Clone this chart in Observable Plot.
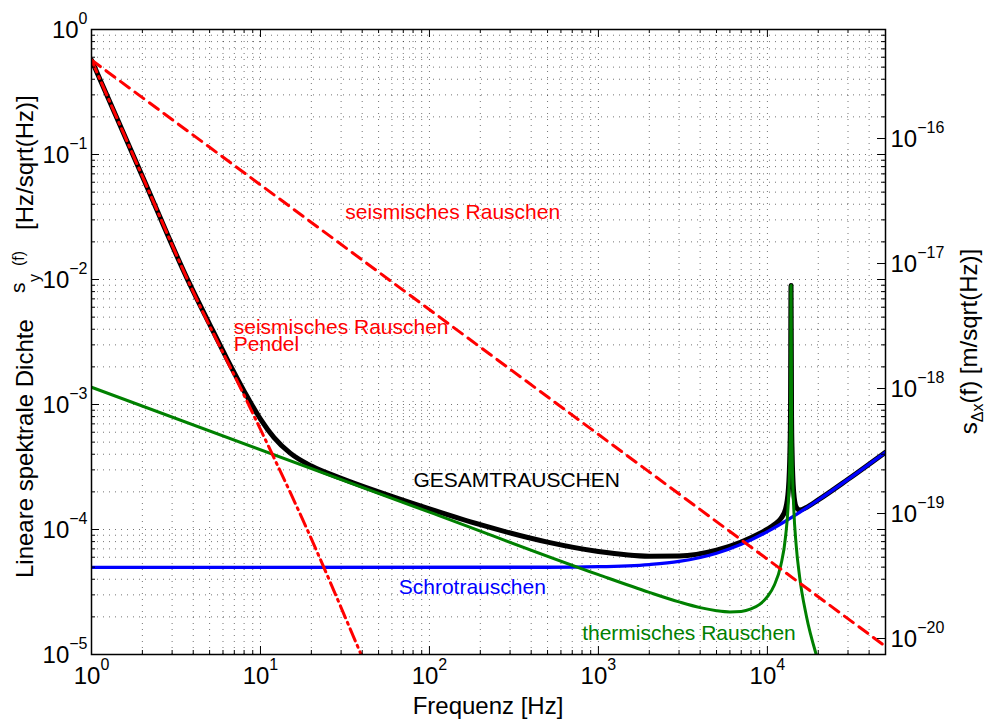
<!DOCTYPE html>
<html>
<head>
<meta charset="utf-8">
<script src="https://cdn.jsdelivr.net/npm/d3@7"></script>
<script src="https://cdn.jsdelivr.net/npm/@observablehq/plot@0.6"></script>
<style>
  html, body { margin: 0; padding: 0; background: #fff; }
  #chart { width: 985px; height: 724px; }
</style>
</head>
<body>
<div id="chart"></div>
<script>
// Rauschbeiträge (lineare spektrale Dichte in Hz/sqrt(Hz)) über der Frequenz in Hz

// seismisches Rauschen (Boden)
const seismicFreq  = [1, 50000];
const seismicNoise = [0.57, 1.16e-5];

// seismisches Rauschen hinter der Pendelaufhängung
const pendulumFreq  = [1, 2, 3.7, 8.5, 18.9, 39.4, 50];
const pendulumNoise = [0.57, 0.067, 0.01, 0.001, 1e-4, 1e-5, 4.7e-6];

// thermisches Rauschen mit mechanischer Resonanz bei ~13.8 kHz
const thermalFreq  = [1, 100, 1000, 2000, 3000, 4000, 5000, 6000, 7000, 8000, 9000, 10000,
                      11000, 12000, 12800, 13300, 13600, 13700, 13800, 13900, 14000, 14300,
                      14800, 15500, 17000, 19500, 21000];
const thermalNoise = [1.375e-3, 1.375e-4, 4.35e-5, 3.14e-5, 2.635e-5, 2.37e-5, 2.24e-5, 2.19e-5,
                      2.21e-5, 2.315e-5, 2.52e-5, 2.90e-5, 3.60e-5, 5.15e-5, 8.71e-5, 1.68e-4,
                      4.13e-4, 8.26e-4, 8.95e-3, 7.9e-4, 3.95e-4, 1.55e-4, 7.51e-5, 4.22e-5,
                      2.04e-5, 9.88e-6, 7.2e-6];

// Schrotrauschen
const shotFreq  = [1, 500, 1000, 2000, 3000, 5000, 7000, 10000, 14000, 20000, 30000, 50000];
const shotNoise = [4.97e-5, 4.99e-5, 5.04e-5, 5.24e-5, 5.55e-5, 6.46e-5, 7.62e-5, 9.62e-5,
                   1.256e-4, 1.722e-4, 2.52e-4, 4.15e-4];

// Gesamtrauschen
const totalFreq  = [1, 2, 3.7, 5, 6.3, 8.5, 10, 12, 15, 20, 30, 50, 100, 200, 500, 1000, 2000,
                    3000, 5000, 7000, 9000, 10000, 11000, 12000, 12800, 13300, 13600, 13700,
                    13800, 13900, 14000, 14300, 14800, 15500, 17000, 20000, 30000, 50000];
const totalNoise = [0.57, 0.067, 0.01003, 4.385e-3, 2.354e-3, 1.107e-3, 7.65e-4, 5.46e-4,
                    4.08e-4, 3.22e-4, 2.57e-4, 2.0e-4, 1.462e-4, 1.092e-4, 7.92e-5, 6.66e-5,
                    6.11e-5, 6.14e-5, 6.84e-5, 7.94e-5, 9.28e-5, 1.005e-4, 1.095e-4, 1.221e-4,
                    1.456e-4, 2.07e-4, 4.31e-4, 8.35e-4, 8.95e-3, 7.99e-4, 4.14e-4, 2.01e-4,
                    1.516e-4, 1.434e-4, 1.501e-4, 1.724e-4, 2.52e-4, 4.15e-4];

// Achsen
const xDomain = [1, 50000];
const yDomain = [1e-5, 1];
const xTickExponents = [0, 1, 2, 3, 4];
const yTickExponents = [-5, -4, -3, -2, -1, 0];
const rightTickExponents = [-20, -19, -18, -17, -16];
// Umrechnung Frequenzrauschen -> Längenrauschen (m pro Hz)
const hzToMeter = 7.45e-16;

const FONT = "'Liberation Sans', Arial, Helvetica, sans-serif";
const W = 985, H = 724;
const M = {top: 29, right: 100, bottom: 70, left: 91};
const FW = W - M.left - M.right;
const FH = H - M.top - M.bottom;

const pairs = (fs, vs) => fs.map((f, i) => ({f, v: vs[i]}));
const isDecade = v => Math.abs(Math.log10(v) - Math.round(Math.log10(v))) < 1e-6;

const xAll = d3.scaleLog().domain(xDomain).ticks();
const yAll = d3.scaleLog().domain(yDomain).ticks();
const xMajor = xTickExponents.map(e => 10 ** e);
const yMajor = yTickExponents.map(e => 10 ** e);
const xMinor = xAll.filter(v => !isDecade(v));
const yMinor = yAll.filter(v => !isDecade(v));
const rightTicks = rightTickExponents.map(e => ({y: 10 ** e / hzToMeter, e}));

const gridStyle = {stroke: "#000", strokeOpacity: 0.55, strokeWidth: 1, strokeDasharray: "1,5"};
const tickStyle = {stroke: "#000", strokeWidth: 1};
const MAJ = 8, MIN = 4;

const lineBase = {x: "f", y: "v", curve: "monotone-x", clip: true, strokeLinejoin: "round"};

const chart = Plot.plot({
  width: W,
  height: H,
  marginTop: M.top,
  marginRight: M.right,
  marginBottom: M.bottom,
  marginLeft: M.left,
  style: {fontFamily: FONT, background: "#fff", color: "#000"},
  x: {type: "log", domain: xDomain, axis: null},
  y: {type: "log", domain: yDomain, axis: null},
  marks: [
    // punktiertes Gitter an Haupt- und Nebenteilstrichen
    Plot.ruleX(xAll.filter(v => v > xDomain[0] && v < xDomain[1]), {x: d => d, ...gridStyle}),
    Plot.ruleY(yAll.filter(v => v > yDomain[0] && v < yDomain[1]), {y: d => d, ...gridStyle}),

    // Kurven
    Plot.line(pairs(totalFreq, totalNoise), {...lineBase, stroke: "#000", strokeWidth: 5}),
    Plot.line(pairs(shotFreq, shotNoise), {...lineBase, stroke: "#0000ff", strokeWidth: 3.3}),
    Plot.line(pairs(thermalFreq, thermalNoise), {...lineBase, stroke: "#008000", strokeWidth: 3}),
    Plot.line(pairs(pendulumFreq, pendulumNoise), {...lineBase, stroke: "#ff0000", strokeWidth: 3,
      strokeDasharray: "13,5,2,5"}),
    Plot.line(pairs(seismicFreq, seismicNoise), {...lineBase, stroke: "#ff0000", strokeWidth: 3,
      strokeDasharray: "11,7"}),

    // Beschriftungen der Kurven
    Plot.text(["seismisches Rauschen"], {x: () => 31.8, y: () => 0.0342, text: d => d,
      textAnchor: "start", fill: "#ff0000", fontSize: 21}),
    Plot.text(["seismisches Rauschen"], {x: () => 6.95, y: () => 4.16e-3, text: d => d,
      textAnchor: "start", fill: "#ff0000", fontSize: 21}),
    Plot.text(["Pendel"], {x: () => 6.95, y: () => 3.02e-3, text: d => d,
      textAnchor: "start", fill: "#ff0000", fontSize: 21}),
    Plot.text(["GESAMTRAUSCHEN"], {x: () => 80.4, y: () => 2.47e-4, text: d => d,
      textAnchor: "start", fill: "#000", fontSize: 21}),
    Plot.text(["Schrotrauschen"], {x: () => 65.8, y: () => 3.46e-5, text: d => d,
      textAnchor: "start", fill: "#0000ff", fontSize: 21}),
    Plot.text(["thermisches Rauschen"], {x: () => 801, y: () => 1.48e-5, text: d => d,
      textAnchor: "start", fill: "#008000", fontSize: 21}),

    // nach innen zeigende Teilstriche an allen vier Seiten
    Plot.tickX(xMajor, {x: d => d, insetTop: FH - MAJ, ...tickStyle}),
    Plot.tickX(xMinor, {x: d => d, insetTop: FH - MIN, ...tickStyle}),
    Plot.tickX(xMajor, {x: d => d, insetBottom: FH - MAJ, ...tickStyle}),
    Plot.tickX(xMinor, {x: d => d, insetBottom: FH - MIN, ...tickStyle}),
    Plot.tickY(yMajor, {y: d => d, insetRight: FW - MAJ, ...tickStyle}),
    Plot.tickY(yMinor, {y: d => d, insetRight: FW - MIN, ...tickStyle}),
    Plot.tickY(yMajor, {y: d => d, insetLeft: FW - MAJ, ...tickStyle}),
    Plot.tickY(yMinor, {y: d => d, insetLeft: FW - MIN, ...tickStyle}),
    Plot.tickY(rightTicks, {y: "y", insetLeft: FW - MAJ, ...tickStyle}),

    // Teilstrichbeschriftungen (Zehnerpotenzen)
    Plot.text(xMajor, {x: d => d, frameAnchor: "bottom", dy: 29, fontSize: 24,
      text: d => `10^${Math.round(Math.log10(d))}`}),
    Plot.text(yMajor, {y: d => d, frameAnchor: "left", dx: -4, dy: 1, fontSize: 24, textAnchor: "end",
      text: d => `10^${Math.round(Math.log10(d))}`}),
    Plot.text(rightTicks, {y: "y", frameAnchor: "right", dx: 5, dy: 1, fontSize: 24, textAnchor: "start",
      text: d => `10^${d.e}`}),

    Plot.frame({stroke: "#000", strokeWidth: 1.5})
  ]
});

document.getElementById("chart").appendChild(chart);

// Exponenten als hochgestellten Text setzen
const NS = "http://www.w3.org/2000/svg";
chart.querySelectorAll("text").forEach(t => {
  const m = /^10\^(-?\d+)$/.exec(t.textContent);
  if (!m) return;
  t.textContent = "10";
  const sup = document.createElementNS(NS, "tspan");
  sup.setAttribute("dy", "-14");
  sup.setAttribute("font-size", "16");
  sup.textContent = m[1].replace("-", "\u2212");
  t.appendChild(sup);
});

const svg = d3.select(chart);

// x-Achsentitel
svg.append("text")
  .attr("x", M.left + FW / 2).attr("y", 714)
  .attr("text-anchor", "middle")
  .attr("font-family", FONT).attr("font-size", 24)
  .text("Frequenz [Hz]");

// linker Achsentitel
const left = svg.append("g").attr("transform", "translate(33,578) rotate(-90)")
  .attr("font-family", FONT).attr("fill", "#000").attr("text-anchor", "start");
left.append("text").attr("font-size", 24).text("Lineare spektrale Dichte");
left.append("text").attr("x", 285).attr("y", -8).attr("font-size", 21).text("s");
left.append("text").attr("x", 296).attr("y", 7).attr("font-size", 16).text("y");
left.append("text").attr("x", 312).attr("y", -9).attr("font-size", 16).text("(f)");
left.append("text").attr("x", 348).attr("font-size", 24).text("[Hz/sqrt(Hz)]");

// rechter Achsentitel
const right = svg.append("text")
  .attr("transform", `translate(977,${M.top + FH / 2}) rotate(-90)`)
  .attr("text-anchor", "middle")
  .attr("font-family", FONT).attr("font-size", 24);
right.append("tspan").text("s");
right.append("tspan").attr("dy", 6).attr("font-size", 16).text("\u0394x");
right.append("tspan").attr("dy", -6).text("(f) [m/sqrt(Hz)]");
</script>
</body>
</html>
